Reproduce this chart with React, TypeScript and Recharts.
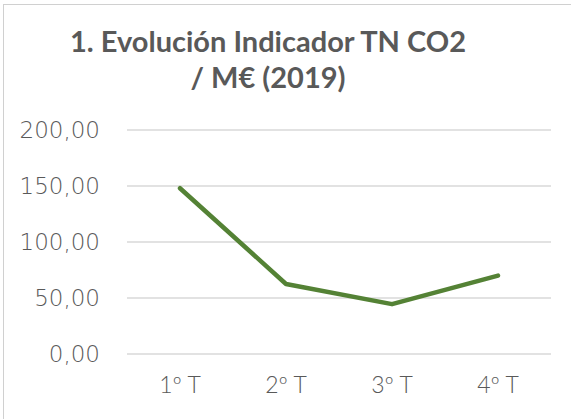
import React from "react";
import { LineChart, Line, XAxis, YAxis, CartesianGrid } from "recharts";

const categories = ["1º T", "2º T", "3º T", "4º T"];
const indicatorValues = [148, 62.5, 44.5, 70];
const yTicks = [0, 50, 100, 150, 200];
const titleLine1 = "1. Evolución Indicador TN CO2";
const titleLine2 = "/ M€ (2019)";

const data = categories.map((c, i) => ({ name: c, value: indicatorValues[i] }));

const FONT = "Lato, 'DejaVu Sans', sans-serif";
const TICK_FONT = "'DejaVu Sans', sans-serif";

export default function App() {
  return (
    <div
      style={{
        position: "absolute",
        left: 0,
        top: 0,
        width: 571,
        height: 419,
        overflow: "hidden",
        background: "#ffffff",
        fontFamily: FONT,
      }}
    >
      <div
        style={{
          position: "absolute",
          left: 3,
          top: 4,
          width: 600,
          height: 500,
          border: "1px solid #d0d0d0",
          boxSizing: "border-box",
        }}
      />
      <div
        style={{
          position: "absolute",
          left: 0,
          top: 23,
          width: 536,
          textAlign: "center",
          fontSize: 29,
          fontWeight: 700,
          color: "#595959",
          lineHeight: "36px",
        }}
      >
        <div>{titleLine1}</div>
        <div>{titleLine2}</div>
      </div>
      <div style={{ position: "absolute", left: 0, top: 0 }}>
        <LineChart
          width={571}
          height={419}
          data={data}
          margin={{ top: 130, right: 20, bottom: 0, left: 0 }}
        >
          <CartesianGrid horizontal vertical={false} stroke="#d9d9d9" strokeWidth={1.5} />
          <XAxis
            dataKey="name"
            axisLine={false}
            tickLine={false}
            tickSize={0}
            tickMargin={23}
            height={65}
            interval={0}
            padding={{ left: 53, right: 53 }}
            tick={{ fill: "#595959", fontSize: 23, fontFamily: FONT, fontWeight: 300 }}
          />
          <YAxis
            domain={[0, 200]}
            ticks={yTicks}
            axisLine={false}
            tickLine={false}
            tickSize={0}
            tickMargin={27}
            width={127}
            interval={0}
            tickFormatter={(v: number) => v.toFixed(2).replace(".", ",")}
            tick={{ fill: "#595959", fontSize: 23, fontFamily: TICK_FONT, fontWeight: 200 }}
          />
          <Line
            type="linear"
            dataKey="value"
            stroke="#548235"
            strokeWidth={4.5}
            strokeLinecap="round"
            strokeLinejoin="round"
            dot={false}
            activeDot={false}
            isAnimationActive={false}
          />
        </LineChart>
      </div>
    </div>
  );
}
